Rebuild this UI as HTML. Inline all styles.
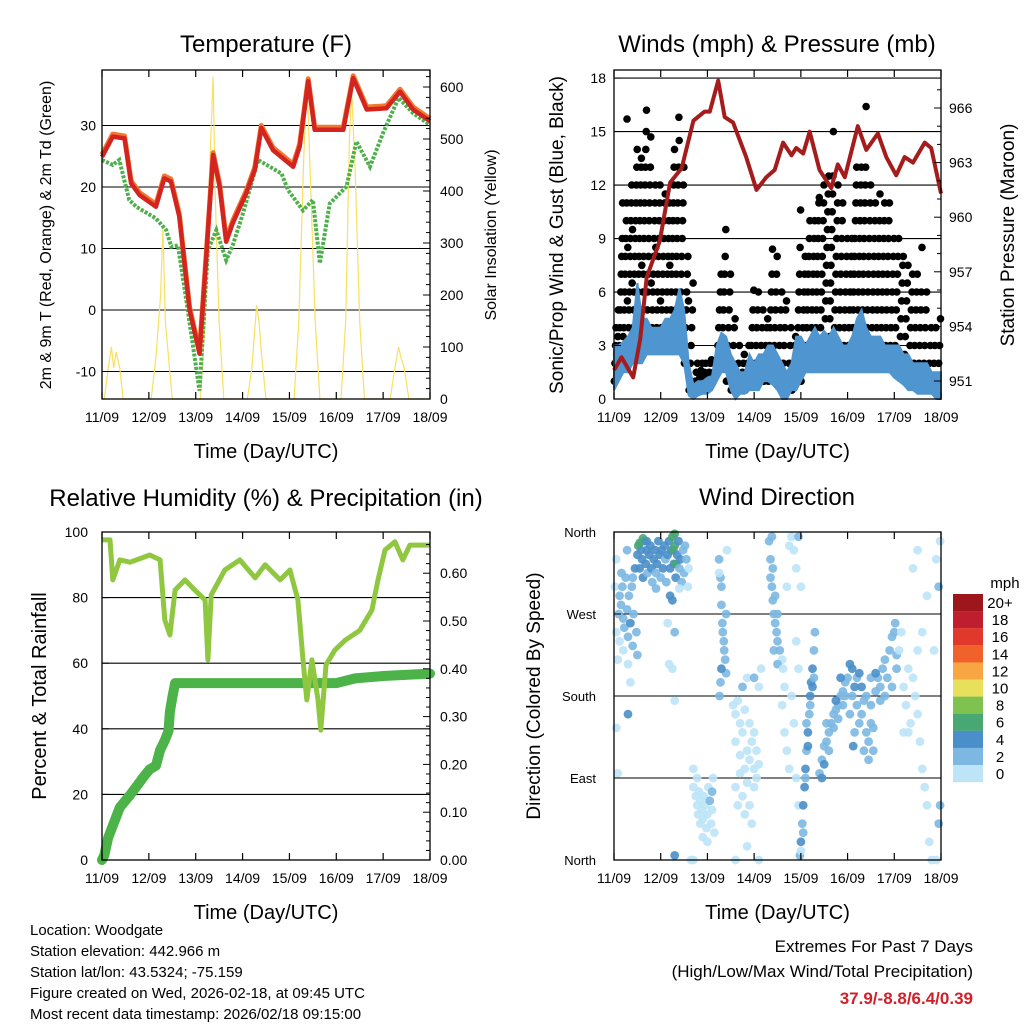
<!DOCTYPE html>
<html><head><meta charset="utf-8"><style>
html,body{margin:0;padding:0;background:#fff;}
svg text{font-family:"Liberation Sans",Arial,sans-serif;fill:#000;}
</style></head><body>
<svg id="c" width="1024" height="1024" viewBox="0 0 1024 1024" xmlns="http://www.w3.org/2000/svg">
<rect width="1024" height="1024" fill="#fff"/>
</svg>
<script>
// ---- Temperature panel data ----
const tempT=[0,0.23,0.48,0.62,0.8,1.15,1.33,1.47,1.65,1.87,2.08,2.22,2.37,2.51,2.65,2.79,3.08,3.26,3.4,3.65,4.08,4.22,4.4,4.54,4.86,5.15,5.36,5.65,6.07,6.36,6.64,7];
const tempV=[24.9,28.2,27.9,20.6,18.7,16.8,21.4,20.9,15.2,0,-7.1,8.1,25.2,20.1,11.1,14.1,19.0,22.8,29.6,26,23.3,26.6,37.2,29.3,29.3,29.3,37.7,32.6,32.8,35.5,32.6,30.7];
const dewT=[0,0.23,0.37,0.58,0.73,1.15,1.37,1.48,1.62,1.8,2.08,2.26,2.44,2.65,2.79,3.01,3.33,3.83,3.97,4.29,4.5,4.65,4.86,5.22,5.43,5.72,6.0,6.33,6.64,7];
const dewV=[24.4,23.6,24.4,17.9,16.8,14.9,13,10.3,10.5,1.6,-13.1,9.7,13,8.1,10.5,15.7,24.4,22.2,19.5,16.2,17.9,7.6,17.3,20.1,27.4,23.3,28.8,34.5,32,30.1];
const solarT=[0,0.05,0.12,0.2,0.25,0.3,0.38,0.45,1.05,1.15,1.25,1.3,1.35,1.4,1.5,2.1,2.2,2.3,2.37,2.42,2.5,2.6,3.1,3.2,3.3,3.35,3.4,3.5,4.1,4.2,4.3,4.37,4.45,4.55,4.65,5.1,5.2,5.28,5.33,5.4,5.5,5.6,6.15,6.25,6.33,6.38,6.45,6.55,7];
const solarV=[0,0,50,100,60,90,60,0,0,80,200,330,150,100,0,0,150,450,620,380,150,0,0,60,180,150,90,0,0,150,450,620,420,150,0,0,150,500,590,450,150,0,0,60,100,80,60,0,0];
// ---- Winds panel data ----
const presT=[0,0.16,0.41,0.56,0.7,0.98,1.2,1.45,1.7,1.94,2.05,2.23,2.37,2.55,2.83,3.05,3.26,3.44,3.62,3.8,3.9,4.05,4.19,4.4,4.65,4.79,4.94,5.22,5.4,5.65,5.83,6.04,6.22,6.4,6.65,6.79,7];
const presV=[951.6,952.3,951.2,953.3,956.7,958.7,961.9,962.7,965.3,965.8,965.8,967.5,965.5,965.2,963.3,961.5,962.2,962.6,964.1,963.4,963.8,963.5,964.7,962.6,961.6,962.9,962.2,965,963.7,964.6,963.3,962.3,963.3,963,964.1,963.8,961.3];
const windHi=[3,3,3.2,3.5,4,6.5,4.5,4.5,4,4,4,4.5,4.5,5,6.2,5,2,0.8,1,1,1.2,1.3,3,3.7,3.5,2.5,2,1.5,1.5,2.5,2,2.5,2.5,3,3,2.5,2,1.5,2,3.5,3.5,3,3.5,4,3.5,3.8,3.5,4,3.5,3,3,3.5,4.5,5,4,3.5,3.5,3.5,3,3,3,3,2.5,2.5,2,2,2,2,1.5,1.5,1.5];
const windLo=[0.5,1,1.5,1.5,2,2,2,2.5,2.5,2.5,2.5,2.5,2.5,2.5,2.5,2,0.2,0,0.2,0.3,0.3,0.5,1,1.5,1.5,0.5,0,0.3,0.3,0.5,0.5,0.5,1,1,0.8,0.5,0,0,0.5,0.5,1,1.5,1.5,1.5,1.5,1.5,1.5,1.5,1.5,1.5,1.5,1.5,1.5,1.5,1.5,1.5,1.5,1.5,1.5,1.5,1.2,1,0.8,0.5,0.5,0.3,0.3,0.3,0.3,0,0];
const gustBins=[
[1,2,3,4,2.5,1.5,3.5,5],[2,3,4,5,6,7,8,9,11,3.5],[3,4,5,6,7,8,9,10,11,15.7,5.5,8.5],[3,4,5,6,7,8,9,10,11,12,6.5,9.5],[3,4,5,6,7,8,9,10,11,12,13,14],
[4,5,6,7,8,9,10,11,12,13,13.5,7.5],[4,5,6,7,8,9,10,11,12,13,14,15,16.2],[4,5,6,7,8,9,10,11,12,13,14.7,6.5],[3,4,5,6,7,8,9,10,11,12,8.5],[3,4,5,6,7,8,9,10,11,12,5.5],
[3,4,5,6,7,8,9,10,11,11.5],[3,4,5,6,7,8,9,10,11,7.5],[3,4,5,6,7,8,9,10,11,12,13,14],[3,4,5,6,7,8,9,10,11,12,13,15.8,14.5],[3,4,5,6,7,8,9,10,11,12,13],
[2,3,4,5,6,7,8,5.5],[0.5,1,2,3,4,5,6.5],[0.5,1,1.5,2],[0.8,1.2,1.6,2],[1,1.5,2,1.3],
[1,1.5,2,2.2],[1,1.5,2,1.8],[2,3,4,5,6,7],[2,3,4,5,6,7,8,9.5],[1,2,3,4,5,6,7],
[0.5,1,2,3,4,4.5],[0.5,1,2,3],[0.5,1,1.5,2,2.5],[0.5,1,2,3],[1,2,3,4,5,6.1],
[1,2,3,4,5,6],[1,2,3,4,5],[1,2,3,4,4.5],[1,2,3,4,5,6,7,8.4],[1,2,3,4,5,6,7,8],
[1,2,3,4,5,6],[1,2,3,4,5,5.5],[0.5,1,2,3,4],[0.5,1,2,3,3.5],[1,2,3,4,5,6,7,8.5,10.6],
[1,2,3,4,5,6,7,8],[2,3,4,5,6,7,8,9,10],[2,3,4,5,6,7,8,9,10],[2,3,4,5,6,7,8,9,10,11,11.3],[2,3,4,5,6,7,8,9,10,11,12],
[2.5,3.5,4.5,5.5,6.5,7.5,8.5,9.5,10.5,11.5,12.5],[2.5,3.5,4.5,5.5,6.5,7.5,8.5,9.5,10.5,11.5,12.5,15],[2,3,4,5,6,7,8,9,10,11,12],[2,3,4,5,6,7,8,9,10,11],[2,3,4,5,6,7,8,9],
[2,3,4,5,6,7,8,9],[3,4,5,6,7,8,9,10,11,12,13],[3,4,5,6,7,8,9,10,11,12,13],[3,4,5,6,7,8,9,10,11,12,13,16.4],[3,4,5,6,7,8,9,10,11,12],
[2,3,4,5,6,7,8,9,10,11],[2,3,4,5,6,7,8,9,10,11.5],[2,3,4,5,6,7,8,9,10,11],[2,3,4,5,6,7,8,9,10,11],[2,3,4,5,6,7,8,9],
[2,3,4,5,6,7,8,9],[1.5,2.5,3.5,4.5,5.5,6.5,7.5,8],[1.5,2.5,3.5,4.5,5.5,6.5,7.5],[1,2,3,4,5,6,7],[1,2,3,4,5,6,7],
[0.5,1,2,3,4,5,6,8.5],[0.5,1,2,3,4,5,6],[0.5,1,2,3,4],[0.5,1,2,3,4],[0.5,1,2,3,4.5]];
// ---- RH / precip data ----
const rhT=[0,0.17,0.23,0.38,0.6,1.02,1.24,1.34,1.45,1.56,1.77,1.98,2.2,2.26,2.33,2.62,2.94,3.27,3.48,3.8,4.01,4.18,4.29,4.37,4.48,4.61,4.67,4.78,4.97,5.19,5.5,5.76,5.89,6.04,6.25,6.42,6.57,7];
const rhV=[97.6,97.6,85.4,91.5,90.8,93,91.5,73.2,68.6,82.3,85.4,82.3,79.3,61,80.8,88.4,91.5,86,90,85.4,88.4,79.3,61,48.8,61,48.8,39.6,59.5,64,67,70,76.2,85.4,94.5,97,91.5,96,96];
const prT=[0,0.05,0.13,0.38,0.6,0.92,1.02,1.15,1.24,1.34,1.42,1.45,1.5,1.56,1.65,5.0,5.4,6.0,7];
const prV=[0,0.01,0.046,0.11,0.136,0.178,0.19,0.197,0.23,0.25,0.27,0.31,0.34,0.37,0.37,0.37,0.38,0.385,0.39];
// ---- Wind direction data: [day, direction deg, speed mph] ----
const dirPts=[[0.02,300,1],[0.05,250,1],[0.08,220,1],[0.1,270,2],[0.12,290,2],[0.15,280,3],[0.18,300,3],[0.2,265,3],[0.22,255,2],[0.25,310,3],[0.28,275,3],[0.3,245,3],[0.32,290,3],[0.35,260,4],[0.38,300,3],[0.4,235,3],[0.42,270,3],[0.45,320,4],[0.48,250,3],[0.5,225,2],[0.12,240,1],[0.2,230,1],[0.3,215,1],[0.35,195,1],[0.05,330,1],[0.28,340,3],[0.16,315,3],[0.4,310,3],
[0.5,335,4],[0.52,345,6],[0.55,320,4],[0.58,340,5],[0.6,330,4],[0.62,310,4],[0.65,350,5],[0.68,325,4],[0.7,340,5],[0.72,315,3],[0.75,335,4],[0.78,345,5],[0.8,320,4],[0.82,305,3],[0.85,330,4],[0.88,340,5],[0.9,315,3],[0.92,325,4],[0.95,350,4],[0.98,335,4],[1.0,310,3],[1.02,340,5],[1.05,320,4],[1.08,345,4],[1.1,330,3],[1.12,305,3],[1.15,335,4],[1.18,350,5],[1.2,320,4],[1.22,340,4],[1.25,355,7],[1.27,340,6],[1.28,325,4],[1.3,345,6],[1.32,310,4],[1.33,325,7],[1.35,335,4],[1.38,350,4],[1.4,320,3],[1.42,330,4],[1.45,305,3],[1.48,340,3],[1.5,315,2],[1.52,345,2],[1.55,330,2],[0.62,353,6],[1.3,358,6],[0.55,348,7],[0.9,298,3],[1.2,290,4],[1.25,285,4],[1.4,298,1],[1.3,250,3],[1.6,320,1],[1.58,300,1],
[0.3,160,4],[0.7,350,5],[1.15,260,1],[1.18,215,1],[1.25,210,1],[1.3,175,1],[0.05,145,1],[0.08,95,1],
[1.7,80,1],[1.75,70,1],[1.78,60,1],[1.8,50,1],[1.82,75,1],[1.85,65,1],[1.88,55,1],[1.9,45,1],[1.92,70,1],[1.95,60,1],[1.98,35,1],[2.0,50,1],[2.02,80,1],[2.05,65,2],[2.08,40,1],[2.1,55,1],[2.12,90,1],[2.15,30,1],[1.78,90,1],[1.85,40,1],[2.0,20,1],[1.9,25,1],[2.1,75,2],[1.7,100,1],[1.65,0,1],[1.7,0,1],[1.3,5,4],
[2.25,330,2],[2.28,310,2],[2.3,280,3],[2.32,260,3],[2.35,240,3],[2.38,220,2],[2.4,205,3],[2.3,300,2],[2.33,250,2],[2.36,230,3],[2.4,270,2],[2.28,195,2],[2.26,180,2],[2.42,340,1],[2.25,315,1],[2.3,210,4],
[2.55,170,1],[2.6,160,1],[2.65,175,1],[2.7,150,1],[2.75,140,1],[2.8,165,1],[2.85,120,1],[2.9,110,1],[2.95,130,1],[3.0,100,1],[3.05,90,1],[2.6,80,1],[2.65,60,1],[2.7,95,1],[2.75,70,1],[2.8,50,1],[2.85,85,1],[2.9,60,1],[2.95,40,1],[3.0,140,1],[3.05,120,1],[3.1,105,1],[2.6,130,1],[2.7,115,1],[2.8,100,1],[2.9,150,1],[3.0,80,1],[2.75,190,2],[2.85,200,1],[3.0,200,2],[3.1,190,1],[3.15,210,1],[2.85,15,1],[3.1,0,1],[2.6,0,1],
[3.32,350,2],[3.35,330,2],[3.38,300,3],[3.4,285,3],[3.42,270,3],[3.45,260,3],[3.48,250,3],[3.5,240,2],[3.45,290,3],[3.4,320,2],[3.55,230,2],[3.6,220,1],[3.5,270,2],[3.42,230,3],[3.38,355,2],[3.35,310,3],[3.5,215,3],
[3.62,210,1],[3.65,190,1],[3.7,300,1],[3.75,345,1],[3.8,355,1],[3.85,340,1],[3.9,320,1],[3.95,355,2],[3.8,180,1],[3.85,150,1],[3.7,120,1],[3.65,140,1],[3.9,240,1],[3.95,210,1],[4.0,300,1],[3.6,170,1],[3.75,100,1],[3.9,90,1],[3.95,60,1],
[3.98,5,3],[4.0,20,4],[4.03,40,3],[4.05,60,4],[4.08,80,4],[4.1,100,4],[4.12,120,3],[4.15,140,4],[4.18,160,3],[4.2,180,4],[4.22,195,4],[4.25,210,4],[4.28,230,3],[4.3,250,3],[4.1,90,3],[4.15,125,4],[4.2,170,3],[4.25,190,4],[4.05,30,2],[4.0,10,1],[4.12,150,2],[4.28,200,3],
[4.4,95,3],[4.45,110,3],[4.5,125,3],[4.55,130,3],[4.6,140,3],[4.65,150,3],[4.7,160,3],[4.75,165,3],[4.8,170,3],[4.85,180,3],[4.9,185,3],[4.95,195,3],[5.0,200,3],[4.5,105,4],[4.6,120,3],[4.7,145,3],[4.8,155,3],[4.9,170,3],[4.55,150,3],[4.75,175,4],[4.85,200,4],[4.45,90,4],[4.95,180,3],
[5.05,160,3],[5.1,180,3],[5.15,190,4],[5.2,170,3],[5.25,150,3],[5.3,160,3],[5.35,175,3],[5.4,140,3],[5.45,130,3],[5.5,150,3],[5.55,120,3],[5.1,210,4],[5.2,200,3],[5.3,190,4],[5.4,180,3],[5.5,170,3],[5.15,140,3],[5.35,120,3],[5.45,110,3],[5.25,205,4],[5.05,215,4],[5.12,125,4],[5.5,200,3],[5.55,145,3],
[5.6,185,3],[5.65,200,3],[5.7,190,3],[5.75,210,3],[5.8,220,3],[5.85,200,3],[5.9,230,3],[5.95,245,3],[6.0,250,3],[6.05,225,3],[5.8,180,3],[5.95,190,2],[6.02,260,2],[6.05,210,2],[5.7,175,3],[5.6,205,4],
[6.1,230,1],[6.15,250,1],[6.2,190,1],[6.25,170,1],[6.3,140,1],[6.35,150,1],[6.4,200,1],[6.45,180,1],[6.5,160,1],[6.55,130,1],[6.6,100,1],[6.65,80,1],[6.7,60,1],[6.75,20,1],[6.8,0,1],[6.9,0,1],[6.95,40,2],[6.98,60,3],[6.4,320,1],[6.5,340,1],[6.9,330,1],[6.95,300,2],[6.98,350,1],[6.6,250,1],[6.7,290,1],[6.85,230,1],[6.3,210,1],[6.2,140,1],[6.5,230,1]];
const dayLabels=["11/09","12/09","13/09","14/09","15/09","16/09","17/09","18/09"];
const tempTicks=[-10,0,10,20,30];
const solarTicks=[0,100,200,300,400,500,600];
const windTicks=[0,3,6,9,12,15,18];
const presTicks=[951,954,957,960,963,966];
const rhTicks=[0,20,40,60,80,100];
const prTicks=[0,0.1,0.2,0.3,0.4,0.5,0.6];
const dirTicks=[0,90,180,270,360];
const dirNames=["North","East","South","West","North"];
const cbLabels=["20+","18","16","14","12","10","8","6","4","2","0"];
const cbColors=["#9c161b","#be1e2d","#e0382b","#f0622a","#f8a544","#e8e05a","#80c24f","#49a774","#4a8fc9","#7cb8e2","#bde4f7"];

const svg=document.getElementById('c');
const NS="http://www.w3.org/2000/svg";
function mk(tag,attrs,parent){const e=document.createElementNS(NS,tag);for(const k in attrs)e.setAttribute(k,attrs[k]);(parent||svg).appendChild(e);return e;}
function txt(x,y,s,size,anchor,parent,extra){const t=mk('text',Object.assign({x:x,y:y,'font-size':size,'text-anchor':anchor||'middle'},extra||{}),parent);t.textContent=s;return t;}
function pathD(xs,ys){return xs.map((x,i)=>(i?'L':'M')+x.toFixed(1)+','+ys[i].toFixed(1)).join('');}

const P={L:{x0:102,x1:430},R:{x0:614,x1:941},T:{y0:70,y1:399},B:{y0:532,y1:860}};
function xf(px,t){return px.x0+t*(px.x1-px.x0)/7;}

function frame(px,py,name){
  const g=mk('g',{});
  
  
  return g;
}
function border(g,px,py){
  mk('rect',{x:px.x0,y:py.y0,width:px.x1-px.x0,height:py.y1-py.y0,fill:'none',stroke:'#000','stroke-width':1.3},g);
}
function xAxis(g,px,py){
  for(let d=0;d<=7;d++){const x=xf(px,d);
    mk('line',{x1:x,y1:py.y1,x2:x,y2:py.y1-7,stroke:'#000','stroke-width':1.2},g);
    mk('line',{x1:x,y1:py.y0,x2:x,y2:py.y0+7,stroke:'#000','stroke-width':1.2},g);
    const t=txt(x,py.y1+23,dayLabels[d],14,'middle',g);
    
    
  }
  const a=txt((px.x0+px.x1)/2,py.y1+59,'Time (Day/UTC)',20,'middle',g);
  
  
}
function grid(g,px,ys){ys.forEach(y=>mk('line',{x1:px.x0,y1:y,x2:px.x1,y2:y,stroke:'#000','stroke-width':1.1},g));}

// ===== Panel 1: Temperature =====
(function(){
  const px=P.L,py=P.T;const g=frame(px,py,'temperature-panel');
  const yT=v=>310-v*6.15, yS=w=>399-w*0.52, x=t=>xf(px,t);
  grid(g,px,tempTicks.map(yT));
  const sol=mk('path',{d:pathD(solarT.map(x),solarV.map(yS)),fill:'none',stroke:'#f8e060','stroke-width':1.2},g);
  
  
  const dw=mk('path',{d:pathD(dewT.map(x),dewV.map(yT)),fill:'none',stroke:'#4db04a','stroke-width':4,'stroke-dasharray':'3 1.5'},g);
  
  
  const or=mk('path',{d:pathD(tempT.map(x),tempV.map(v=>yT(v+0.4))),fill:'none',stroke:'#f07830','stroke-width':5,'stroke-linejoin':'round'},g);
  
  
  const rd=mk('path',{d:pathD(tempT.map(x),tempV.map(yT)),fill:'none',stroke:'#d42420','stroke-width':4.5,'stroke-linejoin':'round'},g);
  
  
  border(g,px,py);xAxis(g,px,py);
  tempTicks.forEach(v=>{mk('line',{x1:px.x0,y1:yT(v),x2:px.x0+7,y2:yT(v),stroke:'#000'},g);txt(px.x0-6,yT(v)+5,String(v),14,'end',g);});
  for(let w=0;w<=620;w+=20){const big=w%100===0;mk('line',{x1:px.x1,y1:yS(w),x2:px.x1-(big?7:4),y2:yS(w),stroke:'#000','stroke-width':1},g);}
  solarTicks.forEach(w=>txt(px.x1+10,yS(w)+5,String(w),14,'start',g));
  const t=txt(266,52,'Temperature (F)',24,'middle',g);
  
  
  const l=txt(0,0,'2m & 9m T (Red, Orange) & 2m Td (Green)',16,'middle',g,{transform:'translate(51,235) rotate(-90)'});
  
  
  const r=txt(0,0,'Solar Insolation (Yellow)',16,'middle',g,{transform:'translate(496,235) rotate(-90)'});
  
  
})();

// ===== Panel 2: Winds & Pressure =====
(function(){
  const px=P.R,py=P.T;const g=frame(px,py,'winds-pressure-panel');
  const yW=v=>399-v*17.83, yP=p=>381-(p-951)*18.2, x=t=>xf(px,t);
  grid(g,px,windTicks.slice(1).map(yW));
  const gg=mk('g',{fill:'#000'},g);
  
  
  gustBins.forEach((vals,b)=>{vals.forEach((v,i)=>{
    const t=b*0.1+(i+0.5)/vals.length*0.1;
    mk('circle',{cx:x(t).toFixed(1),cy:yW(v).toFixed(1),r:3.8},gg);
  });});
  const hiT=windHi.map((v,i)=>i*0.1);
  const band=pathD(hiT.map(x),windHi.map(yW))+pathD(hiT.slice().reverse().map(x),windLo.slice().reverse().map(yW)).replace('M','L')+'Z';
  const bl=mk('path',{d:band,fill:'#4f95d0',stroke:'#4f95d0','stroke-width':2},g);
  
  
  const pr=mk('path',{d:pathD(presT.map(x),presV.map(yP)),fill:'none',stroke:'#a51c1c','stroke-width':4,'stroke-linejoin':'round'},g);
  
  
  border(g,px,py);xAxis(g,px,py);
  windTicks.forEach(v=>{mk('line',{x1:px.x0,y1:yW(v),x2:px.x0+7,y2:yW(v),stroke:'#000'},g);txt(px.x0-8,yW(v)+5,String(v),14,'end',g);});
  for(let p=950;p<=967.5;p+=1){const big=(p-951)%3===0;mk('line',{x1:px.x1,y1:yP(p),x2:px.x1-(big?7:4),y2:yP(p),stroke:'#000'},g);}
  presTicks.forEach(p=>txt(px.x1+8,yP(p)+5,String(p),14,'start',g));
  const t=txt(777,52,'Winds (mph) & Pressure (mb)',24,'middle',g);
  
  
  const l=txt(0,0,'Sonic/Prop Wind & Gust (Blue, Black)',19,'middle',g,{transform:'translate(563,235) rotate(-90)'});
  
  
  const r=txt(0,0,'Station Pressure (Maroon)',19,'middle',g,{transform:'translate(1014,235) rotate(-90)'});
  
  
})();

// ===== Panel 3: RH & precip =====
(function(){
  const px=P.L,py=P.B;const g=frame(px,py,'humidity-precip-panel');
  const yR=v=>860-v*3.28, yPr=p=>860-p*478, x=t=>xf(px,t);
  grid(g,px,[20,40,60,80].map(yR));
  const pr=mk('path',{d:pathD(prT.map(x),prV.map(yPr)),fill:'none',stroke:'#4cb348','stroke-width':10,'stroke-linejoin':'round','stroke-linecap':'round'},g);
  
  
  const rh=mk('path',{d:pathD(rhT.map(x),rhV.map(yR)),fill:'none',stroke:'#8fc840','stroke-width':5,'stroke-linejoin':'round'},g);
  
  
  border(g,px,py);xAxis(g,px,py);
  rhTicks.forEach(v=>{mk('line',{x1:px.x0,y1:yR(v),x2:px.x0+7,y2:yR(v),stroke:'#000'},g);txt(px.x0-14,yR(v)+5,String(v),14,'end',g);});
  for(let p=0;p<=0.68;p+=0.02){const big=Math.round(p*100)%10===0;mk('line',{x1:px.x1,y1:yPr(p),x2:px.x1-(big?7:4),y2:yPr(p),stroke:'#000'},g);}
  prTicks.forEach(p=>txt(px.x1+10,yPr(p)+5,p.toFixed(2),14,'start',g));
  const t=txt(266,506,'Relative Humidity (%) & Precipitation (in)',24,'middle',g);
  
  
  const l=txt(0,0,'Percent & Total Rainfall',20,'middle',g,{transform:'translate(46,696) rotate(-90)'});
  
  
})();

// ===== Panel 4: Wind direction =====
(function(){
  const px=P.R,py=P.B;const g=frame(px,py,'wind-direction-panel');
  const yD=d=>860-d*328/360, x=t=>xf(px,t);
  grid(g,px,[90,180,270].map(yD));
  function col(s){const i=Math.min(10,Math.floor(s/2));return cbColors[10-i];}
  const pg=mk('g',{},g);
  
  
  dirPts.forEach(p=>{mk('circle',{cx:x(p[0]).toFixed(1),cy:yD(p[1]).toFixed(1),r:4.4,fill:col(p[2]),'fill-opacity':0.9},pg);});
  border(g,px,py);xAxis(g,px,py);
  dirTicks.forEach((d,i)=>{mk('line',{x1:px.x0,y1:yD(d),x2:px.x0+7,y2:yD(d),stroke:'#000'},g);txt(px.x0-18,yD(d)+5,dirNames[i],13,'end',g);});
  const t=txt(777,505,'Wind Direction',24,'middle',g);
  
  
  const l=txt(0,0,'Direction (Colored By Speed)',19,'middle',g,{transform:'translate(540,696) rotate(-90)'});
  
  
  const cb=mk('g',{},svg);
  
  
  cbColors.forEach((c,i)=>{mk('rect',{x:953,y:594+i*17.1,width:30,height:17.2,fill:c},cb);txt(1000,594+i*17.1+14,cbLabels[i],15,'middle',cb);});
  txt(1005,588,'mph',15,'middle',cb);
})();

// ===== Footer text =====
const info=["Location: Woodgate","Station elevation: 442.966 m","Station lat/lon: 43.5324; -75.159","Figure created on Wed, 2026-02-18, at 09:45 UTC","Most recent data timestamp: 2026/02/18 09:15:00"];
const ig=mk('g',{});


info.forEach((s,i)=>txt(30,935+i*21,s,15,'start',ig));
const eg=mk('g',{});


txt(973,952,'Extremes For Past 7 Days',17,'end',eg);
txt(973,977,'(High/Low/Max Wind/Total Precipitation)',17,'end',eg);
const ex=txt(973,1004,'37.9/-8.8/6.4/0.39',17,'end',eg,{'font-weight':'bold'});
ex.setAttribute('style','fill:#d0202a');
</script>
</body></html>
